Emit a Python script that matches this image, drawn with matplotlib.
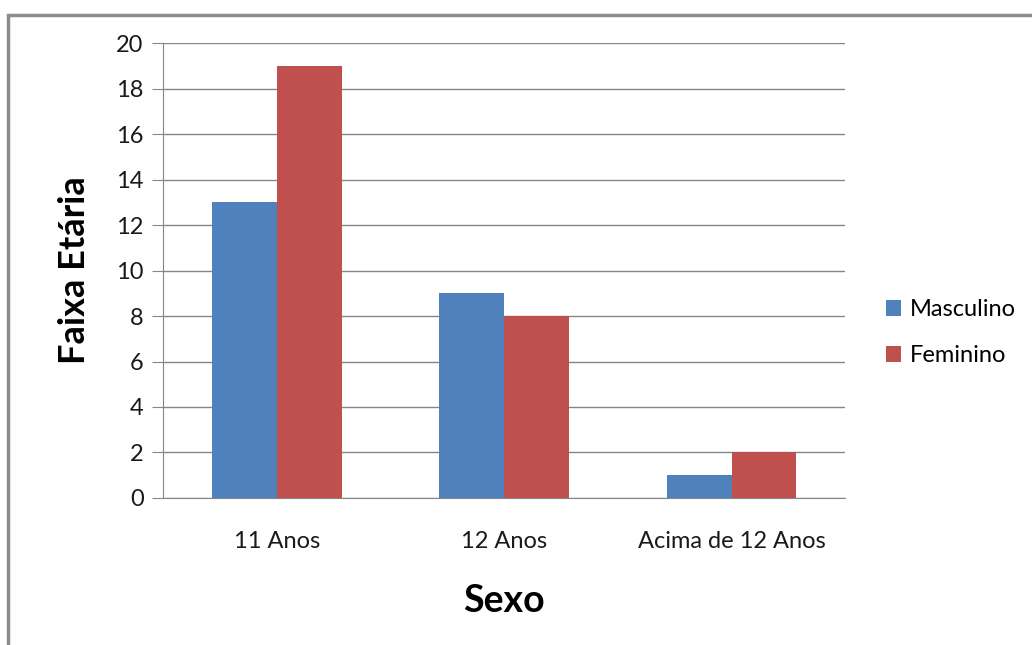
import matplotlib
matplotlib.use("Agg")
import matplotlib.pyplot as plt
import numpy as np
from matplotlib.patches import Rectangle

categories = ["11 Anos", "12 Anos", "Acima de 12 Anos"]
masculino = [13, 9, 1]
feminino = [19, 8, 2]
series_names = ["Masculino", "Feminino"]
y_ticks = [0, 2, 4, 6, 8, 10, 12, 14, 16, 18, 20]

BLUE = "#4f81bd"
RED = "#c0504d"
GRID = "#868686"

plt.rcParams["font.family"] = ["Lato", "DejaVu Sans"]

fig = plt.figure(figsize=(10.32, 6.45), dpi=100)
ax = fig.add_axes([0.158, 0.228, 0.661, 0.705])

# chart-area frame (top and left edges visible)
fig.patches.append(Rectangle((8 / 1032, -0.1), 1.2, 1 - 15 / 645 + 0.1,
                             transform=fig.transFigure, fill=False,
                             edgecolor="#8c8c8c", linewidth=2.5))

x = np.arange(len(categories))
w = 1 / 3.5
ax.bar(x - w / 2, masculino, w, color=BLUE, label=series_names[0], zorder=3)
ax.bar(x + w / 2, feminino, w, color=RED, label=series_names[1], zorder=3)

ax.set_xlim(-0.5, len(categories) - 0.5)
ax.set_ylim(0, 20)
ax.set_yticks(y_ticks)
ax.set_xticks(x)
ax.set_xticklabels(categories)
ax.yaxis.grid(True, color=GRID, linewidth=1)
ax.set_axisbelow(True)

for side in ["top", "right"]:
    ax.spines[side].set_visible(False)
ax.spines["left"].set_color(GRID)
ax.spines["bottom"].set_color(GRID)
ax.tick_params(axis="y", length=8, color=GRID, labelsize=17, pad=6, labelcolor="#1a1a1a")
ax.tick_params(axis="x", length=0, labelsize=17, pad=24, labelcolor="#1a1a1a")

ax.set_ylabel("Faixa Etária", fontsize=26, fontweight="bold", labelpad=18)
ax.set_xlabel("Sexo", fontsize=27, fontweight="bold", labelpad=23)

ax.legend(loc="center left", bbox_to_anchor=(1.028, 0.363), frameon=False,
          fontsize=17, handlelength=0.65, handleheight=0.65, labelspacing=1.05,
          handletextpad=0.4)

fig.savefig("out.png", dpi=100)
